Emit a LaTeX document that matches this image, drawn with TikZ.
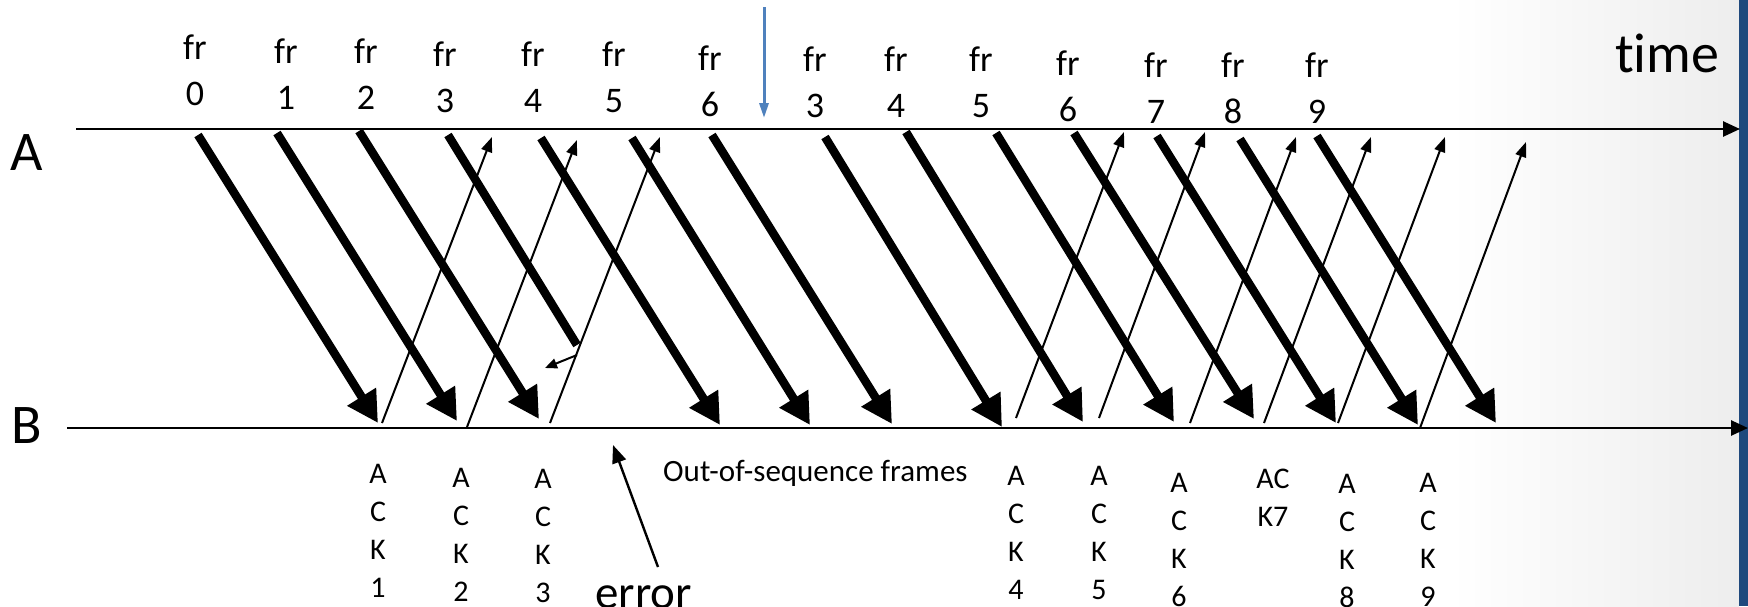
\documentclass[tikz,border=0pt]{standalone}
\usepackage{fontspec}
\setmainfont{Carlito}[Ligatures=NoCommon]
\usetikzlibrary{arrows.meta}
\definecolor{linkblue}{HTML}{4F81BD}
\definecolor{barblue}{HTML}{1F497D}
\tikzset{
  axis/.style={-{Triangle[length=17pt,width=15pt]}, line width=2.6pt},
  frm/.style={-{Triangle[length=31pt,width=32pt]}, line width=8.5pt},
  lost/.style={line width=8.5pt},
  ack/.style={-{Triangle[length=15pt,width=11pt]}, line width=2pt},
  big/.style={font=\fontsize{56}{60}\selectfont, inner sep=0pt, anchor=base},
  % multi-line labels sit on the baseline of their last line
  frl/.style={font=\fontsize{36}{46}\selectfont, align=center, inner sep=0pt, anchor=base},
  ackl/.style={font=\fontsize{30}{38}\selectfont, align=center, inner sep=0pt, anchor=base},
}
\begin{document}
\begin{tikzpicture}[x=1pt, y=-1pt]
  \useasboundingbox (0,0) rectangle (1748,606);
  \fill[white] (0,0) rectangle (1748,606);
  \shade[left color=white, right color=black!7] (1450,0) rectangle (1739,606);
  \fill[barblue] (1739,0) rectangle (1748,606);

  % stations and time axes
  \node[big] (stA) at (27,170) {A};
  \node[big] (stB) at (27,443) {B};
  \node[big, anchor=base west] (time) at (1615,72) {time};
  \coordinate (A0) at (76,129); \coordinate (A1) at (1740,129);
  \coordinate (B0) at (67,428); \coordinate (B1) at (1748,428);
  \draw[axis] (A0) -- (A1);
  \draw[axis] (B0) -- (B1);

  % frame numbers sent by A
  \node[frl] (fr0) at (195,105) {fr\\0};
  \node[frl] (fr1) at (286,109) {fr\\1};
  \node[frl] (fr2) at (366,109) {fr\\2};
  \node[frl] (fr3) at (445,112) {fr\\3};
  \node[frl] (fr4) at (533,112) {fr\\4};
  \node[frl] (fr5) at (614,112) {fr\\5};
  \node[frl] (fr6) at (710,116) {fr\\6};
  \node[frl] (rfr3) at (815,117) {fr\\3};
  \node[frl] (rfr4) at (896,117) {fr\\4};
  \node[frl] (rfr5) at (981,117) {fr\\5};
  \node[frl] (rfr6) at (1068,121) {fr\\6};
  \node[frl] (fr7) at (1156,123) {fr\\7};
  \node[frl] (fr8) at (1233,123) {fr\\8};
  \node[frl] (fr9) at (1317,123) {fr\\9};

  % timeout mark
  \coordinate (to0) at (764,7); \coordinate (to1) at (764,118);
  \draw[-{Triangle[length=15pt,width=9pt]}, line width=3pt, linkblue] (to0) -- (to1);

  % data frames A -> B
  \coordinate (s0) at (198,135);  \coordinate (e0) at (378,423);
  \coordinate (s1) at (277,133);  \coordinate (e1) at (457,421);
  \coordinate (s2) at (359,131);  \coordinate (e2) at (539,419);
  \coordinate (s3) at (448,135);  \coordinate (e3) at (577,345);
  \coordinate (s4) at (541,138);  \coordinate (e4) at (720,425);
  \coordinate (s5) at (632,138);  \coordinate (e5) at (810,425);
  \coordinate (s6) at (712,135);  \coordinate (e6) at (892,424);
  \coordinate (rs3) at (825,137); \coordinate (re3) at (1002,427);
  \coordinate (rs4) at (906,132); \coordinate (re4) at (1083,422);
  \coordinate (rs5) at (996,133); \coordinate (re5) at (1174,422);
  \coordinate (rs6) at (1074,133); \coordinate (re6) at (1254,419);
  \coordinate (s7) at (1157,136); \coordinate (e7) at (1336,423);
  \coordinate (s8) at (1240,139); \coordinate (e8) at (1418,425);
  \coordinate (s9) at (1317,136); \coordinate (e9) at (1496,423);
  \draw[frm] (s0) -- (e0); \draw[frm] (s1) -- (e1); \draw[frm] (s2) -- (e2);
  \draw[lost] (s3) -- (e3);
  \draw[frm] (s4) -- (e4); \draw[frm] (s5) -- (e5); \draw[frm] (s6) -- (e6);
  \draw[frm] (rs3) -- (re3); \draw[frm] (rs4) -- (re4); \draw[frm] (rs5) -- (re5);
  \draw[frm] (rs6) -- (re6); \draw[frm] (s7) -- (e7); \draw[frm] (s8) -- (e8);
  \draw[frm] (s9) -- (e9);

  % acknowledgements B -> A
  \coordinate (k1) at (382,423);  \coordinate (t1) at (492,137);
  \coordinate (k2) at (467,427);  \coordinate (t2) at (577,140);
  \coordinate (k3) at (550,423);  \coordinate (t3) at (660,137);
  \coordinate (k4) at (1016,418); \coordinate (t4) at (1124,132);
  \coordinate (k5) at (1099,418); \coordinate (t5) at (1205,132);
  \coordinate (k6) at (1190,423); \coordinate (t6) at (1296,137);
  \coordinate (k7) at (1264,423); \coordinate (t7) at (1371,137);
  \coordinate (k8) at (1338,423); \coordinate (t8) at (1445,137);
  \coordinate (k9) at (1420,428); \coordinate (t9) at (1526,142);
  \draw[ack] (k1) -- (t1); \draw[ack] (k2) -- (t2); \draw[ack] (k3) -- (t3);
  \draw[ack] (k4) -- (t4); \draw[ack] (k5) -- (t5); \draw[ack] (k6) -- (t6);
  \draw[ack] (k7) -- (t7); \draw[ack] (k8) -- (t8); \draw[ack] (k9) -- (t9);

  % frame 3 is hit
  \coordinate (hit0) at (577,355); \coordinate (hit1) at (545,368);
  \draw[-{Triangle[length=12pt,width=10pt]}, line width=2pt] (hit0) -- (hit1);

  % ack labels under B
  \node[ackl] (ack1) at (378,597) {A\\C\\K\\1};
  \node[ackl] (ack2) at (461,601) {A\\C\\K\\2};
  \node[ackl] (ack3) at (543,602) {A\\C\\K\\3};
  \node[ackl] (ack4) at (1016,599) {A\\C\\K\\4};
  \node[ackl] (ack5) at (1099,599) {A\\C\\K\\5};
  \node[ackl] (ack6) at (1179,606) {A\\C\\K\\6};
  \node[ackl] (ack7) at (1273,526) {AC\\K7};
  \node[ackl] (ack8) at (1347,607) {A\\C\\K\\8};
  \node[ackl] (ack9) at (1428,606) {A\\C\\K\\9};

  \node[anchor=base west, inner sep=0pt, font=\fontsize{31}{36}\selectfont] (oos) at (663,481) {Out-of-sequence frames};
  \node[anchor=base west, inner sep=0pt, font=\fontsize{47}{52}\selectfont] (err) at (595,608) {error};
  \coordinate (ep0) at (658,567); \coordinate (ep1) at (613,445);
  \draw[-{Triangle[length=18pt,width=14pt]}, line width=2.4pt] (ep0) -- (ep1);
\end{tikzpicture}
\end{document}
